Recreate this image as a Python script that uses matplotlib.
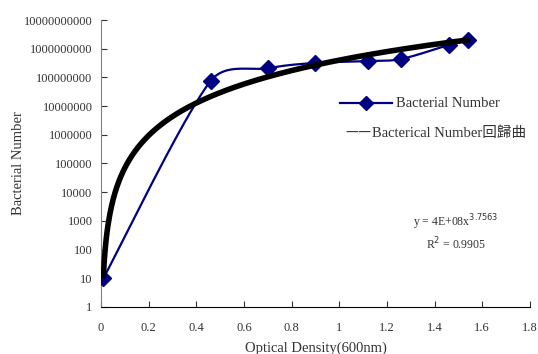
import matplotlib.pyplot as plt
import numpy as np

plt.rcParams["font.family"] = ["Liberation Serif", "Noto Sans CJK TC"]

# measured points
od = [0.01, 0.46, 0.70, 0.90, 1.12, 1.26, 1.46, 1.54]
bacteria = [10, 7.5e7, 2.1e8, 3.2e8, 3.7e8, 4.4e8, 1.35e9, 2.0e9]

# power trend line y = a * x^b
fit_a = 4e8
fit_b = 3.7563
fit_label = "y = 4E+08x$^{3.7563}$"
r2_label = "R$^{2}$ = 0.9905"

y_ticks = [10 ** k for k in range(0, 11)]
x_ticks = [0, 0.2, 0.4, 0.6, 0.8, 1, 1.2, 1.4, 1.6, 1.8]


def smooth(xs, ys, sx, sy, n=40):
    # Excel-like smoothed line: Bezier segments in screen-scaled coordinates,
    # handle length clamped so short segments don't overshoot much
    px = np.array(xs) * sx
    py = np.log10(ys) * sy
    pts = np.column_stack([px, py])
    pts = np.vstack([pts[0], pts, pts[-1]])
    out = []
    for i in range(1, len(pts) - 2):
        p0, p1, p2, p3 = pts[i - 1], pts[i], pts[i + 1], pts[i + 2]
        seg_len = np.linalg.norm(p2 - p1)
        d1 = (p2 - p0) / 6
        d2 = (p3 - p1) / 6
        lim = seg_len / 2.5
        if np.linalg.norm(d1) > lim:
            d1 = d1 / np.linalg.norm(d1) * lim
        if np.linalg.norm(d2) > lim:
            d2 = d2 / np.linalg.norm(d2) * lim
        c1 = p1 + d1
        c2 = p2 - d2
        t = np.linspace(0, 1, n)[:, None]
        seg = ((1 - t) ** 3) * p1 + 3 * ((1 - t) ** 2) * t * c1 + 3 * (1 - t) * t ** 2 * c2 + t ** 3 * p2
        out.append(seg)
    out = np.vstack(out)
    return out[:, 0] / sx, 10 ** (out[:, 1] / sy)


fig = plt.figure(figsize=(5.38, 3.54), dpi=100)
ax = fig.add_axes([0.1877, 0.1328, 0.7973, 0.8107])

sx_, sy_ = 429 / 1.8, 287 / 10
xs, ys = smooth(od, bacteria, sx_, sy_)
ax.plot(xs, ys, color="#000080", lw=1.6, zorder=2)
ax.plot(od, bacteria, linestyle="none", marker="D", ms=8, color="#000080", zorder=3)

xf = np.linspace(od[0], od[-1], 400)
ax.plot(xf, fit_a * xf ** fit_b, color="black", lw=4, zorder=4, solid_capstyle="round")

ax.set_yscale("log")
ax.set_xlim(0, 1.8)
ax.set_ylim(1, 1e10)
ax.set_yticks(y_ticks)
ax.set_yticklabels([str(v) for v in y_ticks])
ax.minorticks_off()
ax.set_xticks(x_ticks)
ax.set_xticklabels([f"{v:g}" for v in x_ticks])
ax.tick_params(direction="in", labelsize=9, length=4, colors="#333333")
ax.tick_params(axis="x", pad=11)
ax.tick_params(axis="y", pad=6)

for s in ["top", "right"]:
    ax.spines[s].set_visible(False)
ax.spines["left"].set_color("#808080")
ax.spines["bottom"].set_color("black")

ax.set_ylabel("Bacterial Number", fontsize=10.5, color="#333333", labelpad=-1)
ax.set_xlabel("Optical Density(600nm)", fontsize=10.5, color="#333333", labelpad=5)

# legend-like entries
fig.add_artist(plt.Line2D([340 / 538, 392 / 538], [1 - 103 / 354] * 2, color="#000080", lw=1.6))
fig.add_artist(plt.Line2D([366 / 538], [1 - 103 / 354], marker="D", ms=7, color="#000080"))
fig.text(396 / 538, 1 - 104 / 354, "Bacterial Number", fontsize=10.5, color="#333333", va="center")
fig.text(345 / 538, 1 - 133 / 354, "——", fontsize=10.5, color="#333333", va="center",
         family=["Noto Sans CJK TC"])
fig.text(372 / 538, 1 - 133 / 354, "Bacterical Number回歸曲", fontsize=10.5, color="#333333", va="center")

fig.text(456 / 538, 1 - 222 / 354, fit_label, fontsize=8.5, ha="center", va="center", color="#333333")
fig.text(456 / 538, 1 - 244 / 354, r2_label, fontsize=8.5, ha="center", va="center", color="#333333")

fig.savefig("out.png", dpi=100)
